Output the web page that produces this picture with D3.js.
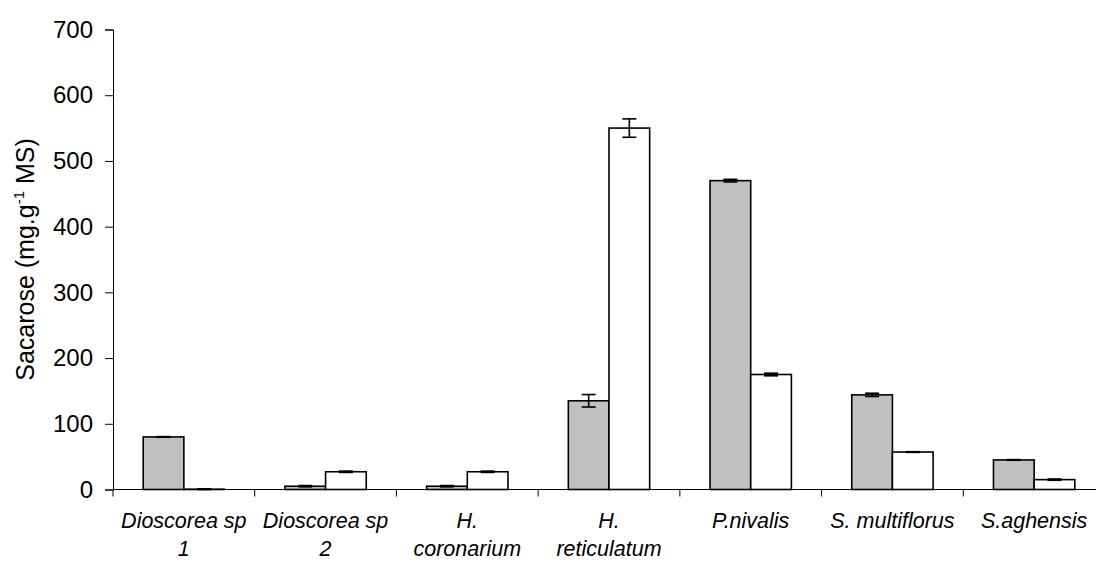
<!DOCTYPE html>
<html lang="pt">
<head>
    <meta charset="UTF-8">
    <title>Sacarose</title>
    <script src="https://d3js.org/d3.v7.min.js"></script>
    <style>
        body { margin: 0; background: #fff; }
        text { font-family: "Liberation Sans", Arial, sans-serif; fill: #000; }
    </style>
</head>
<body>
    <div id="chart"></div>
    <script>

        // species, label lines split as in the original
        const categories = [
            "Dioscorea sp\n1", "Dioscorea sp\n2", "H.\ncoronarium", "H.\nreticulatum",
            "P.nivalis", "S. multiflorus", "S.aghensis"
        ];
        const series = ["a", "b"];
        const valuesA = [80, 5, 5, 135, 470, 144, 45];
        const errorsA = [0.5, 1, 1, 9.5, 2, 2.5, 0.5];
        const valuesB = [0.5, 27, 27, 550, 175, 57, 15];
        const errorsB = [0.5, 1, 1, 14, 2, 0.5, 1];
        const yTicks = [0, 100, 200, 300, 400, 500, 600, 700];

        const width = 1096, height = 561;
        const mLeft = 113, mRight = 1105, mTop = 29.5, mBottom = 489.5;

        const svg = d3.select("#chart").append("svg")
            .attr("width", width)
            .attr("height", height);

        const x0 = d3.scaleBand().domain(categories).range([mLeft, mRight]);
        const bw = x0.bandwidth();
        const x1 = d3.scaleBand().domain(series).range([bw * 0.213, bw * 0.787]);
        const y = d3.scaleLinear().domain([0, 700]).range([mBottom, mTop]);

        const rows = categories.map((c, i) => [
            { cat: c, s: "a", v: valuesA[i], e: errorsA[i] },
            { cat: c, s: "b", v: valuesB[i], e: errorsB[i] }
        ]).flat();

        // bars
        svg.append("g").selectAll("rect")
            .data(rows)
            .join("rect")
            .attr("x", d => x0(d.cat) + x1(d.s))
            .attr("y", d => y(d.v))
            .attr("width", x1.bandwidth())
            .attr("height", d => y(0) - y(d.v))
            .attr("fill", d => d.s === "a" ? "#c0c0c0" : "#fff")
            .attr("stroke", "#000")
            .attr("stroke-width", 1.6);

        // error bars
        const eb = svg.append("g").attr("stroke", "#000").attr("stroke-width", 1.6);
        rows.forEach(d => {
            const cx = x0(d.cat) + x1(d.s) + x1.bandwidth() / 2;
            eb.append("line").attr("x1", cx).attr("x2", cx)
                .attr("y1", y(d.v + d.e)).attr("y2", y(d.v - d.e));
            [d.v + d.e, d.v - d.e].forEach(v => {
                eb.append("line").attr("x1", cx - 7).attr("x2", cx + 7)
                    .attr("y1", y(v)).attr("y2", y(v));
            });
        });

        // y axis
        const yAxis = svg.append("g")
            .attr("transform", `translate(${mLeft},0)`)
            .call(d3.axisLeft(y).tickValues(yTicks).tickSize(8).tickPadding(12));
        yAxis.selectAll("text").style("font-size", "24px");
        yAxis.select(".domain").attr("stroke", "#000");
        yAxis.selectAll(".tick line").attr("stroke", "#000");

        // x axis: ticks between categories
        svg.append("line")
            .attr("x1", mLeft).attr("x2", mRight)
            .attr("y1", mBottom).attr("y2", mBottom)
            .attr("stroke", "#000");
        svg.append("g").selectAll("line")
            .data(categories)
            .join("line")
            .attr("x1", d => x0(d)).attr("x2", d => x0(d))
            .attr("y1", mBottom).attr("y2", mBottom + 7)
            .attr("stroke", "#000");

        // category labels
        const lab = svg.append("g").selectAll("text")
            .data(categories)
            .join("text")
            .attr("text-anchor", "middle")
            .attr("font-style", "italic")
            .style("font-size", "21.5px");
        lab.each(function (d) {
            const t = d3.select(this);
            d.split("\n").forEach((line, k) => {
                t.append("tspan")
                    .attr("x", x0(d) + bw / 2)
                    .attr("y", mBottom + 38 + k * 28)
                    .text(line);
            });
        });

        // y title
        const yt = svg.append("text")
            .attr("transform", `translate(34,${(mTop + mBottom) / 2}) rotate(-90)`)
            .attr("text-anchor", "middle")
            .style("font-size", "25px");
        yt.append("tspan").text("Sacarose (mg.g");
        yt.append("tspan").attr("dy", -10).style("font-size", "15px").text("-1");
        yt.append("tspan").attr("dy", 10).text(" MS)");

    </script>
</body>
</html>
